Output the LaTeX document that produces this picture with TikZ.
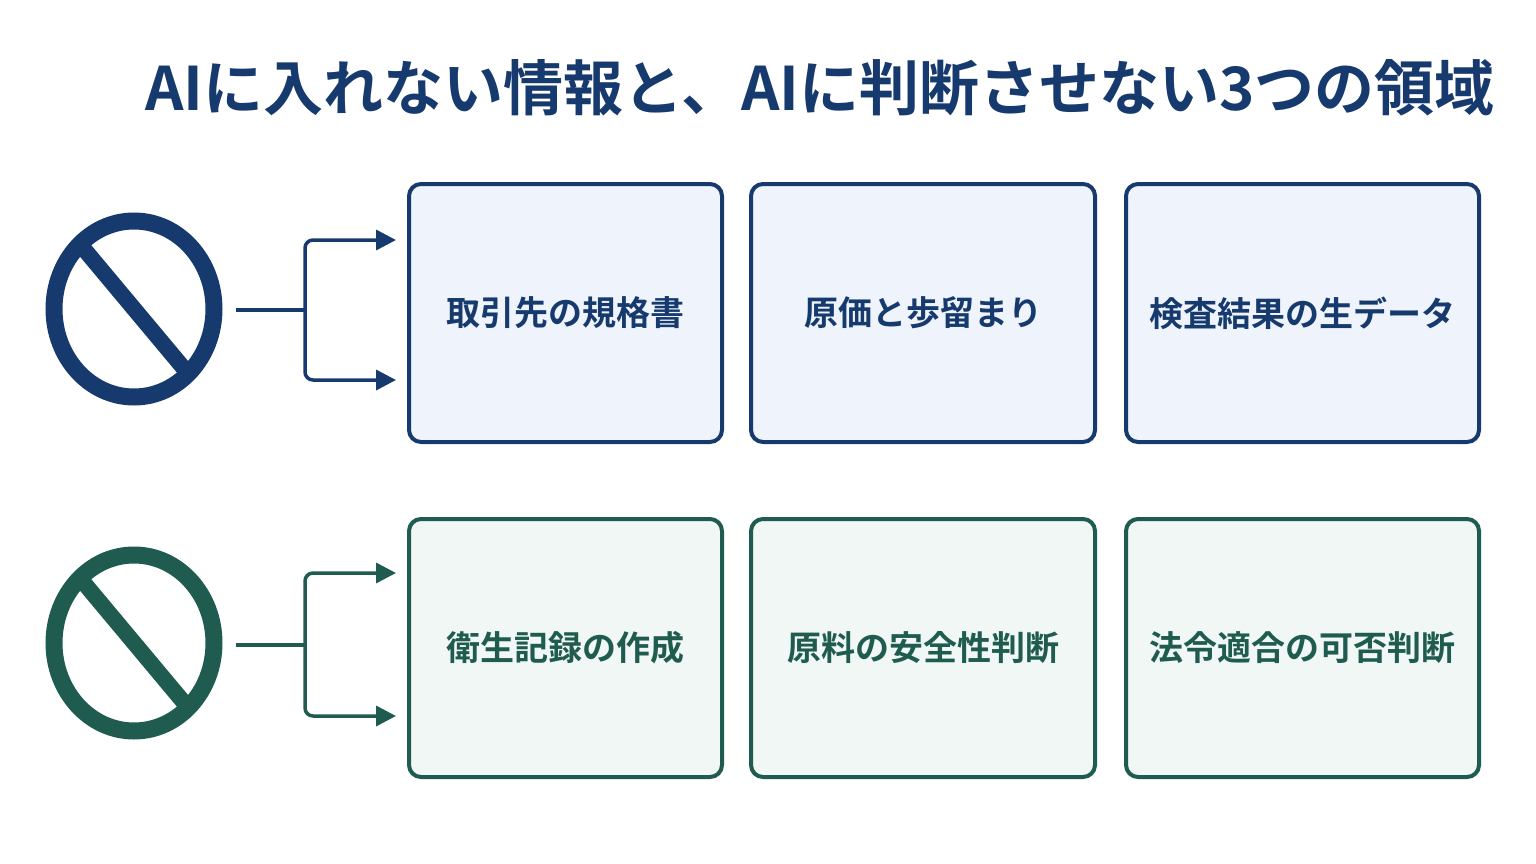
\documentclass[tikz,border=0pt]{standalone}
\usepackage{fontspec}
\setmainfont{Noto Sans CJK JP}[BoldFont={* Bold}]
\usetikzlibrary{arrows.meta,calc}
\definecolor{navy}{HTML}{173A6E}
\definecolor{navyfill}{HTML}{EEF3FC}
\definecolor{grn}{HTML}{1F5C4F}
\definecolor{grnfill}{HTML}{F0F7F5}
\begin{document}
\begin{tikzpicture}[x=1pt,y=-1pt,
  box/.style={draw=#1,line width=4pt,rounded corners=12pt,anchor=north west},
  lbl/.style={font=\bfseries\fontsize{34}{38}\selectfont,text=#1},
  conn/.style={draw=#1,line width=3.5pt,rounded corners=8pt},
  arr/.style={conn=#1,-{Triangle[length=20pt,width=20pt]}}]
\useasboundingbox (0,0) rectangle (1536,864);
\node[font=\bfseries\fontsize{60}{64}\selectfont,text=navy] (title) at (820,88) {AIに入れない情報と、AIに判断させない3つの領域};
\foreach \c/\f/\y/\n in {navy/navyfill/182/a,grn/grnfill/517/b}{
  \node[box=\c,fill=\f,minimum width=313pt,minimum height=258pt] (\n1) at (407,\y) {};
  \node[box=\c,fill=\f,minimum width=344pt,minimum height=258pt] (\n2) at (749,\y) {};
  \node[box=\c,fill=\f,minimum width=353pt,minimum height=258pt] (\n3) at (1124,\y) {};
}
\node[lbl=navy] at (a1.center) {取引先の規格書};
\node[lbl=navy] at (a2.center) {原価と歩留まり};
\node[lbl=navy] at (a3.center) {検査結果の生データ};
\node[lbl=grn] at (b1.center) {衛生記録の作成};
\node[lbl=grn] at (b2.center) {原料の安全性判断};
\node[lbl=grn] at (b3.center) {法令適合の可否判断};
\foreach \c/\y in {navy/309,grn/643}{
  \draw[\c,line width=17pt] (134,\y) ellipse [x radius=80pt,y radius=88pt];
  \draw[\c,line width=16pt] ($(134,\y)+(-50,-60)$) -- ($(134,\y)+(52,62)$);
}
\coordinate (pa) at (236,310); \coordinate (pb) at (305,310);
\coordinate (qa) at (236,645); \coordinate (qb) at (305,645);
\draw[conn=navy] (pa) -- (pb);
\draw[arr=navy] (pb) |- (396,240);
\draw[arr=navy] (pb) |- (396,380);
\draw[conn=grn] (qa) -- (qb);
\draw[arr=grn] (qb) |- (396,573);
\draw[arr=grn] (qb) |- (396,716);
\end{tikzpicture}
\end{document}
